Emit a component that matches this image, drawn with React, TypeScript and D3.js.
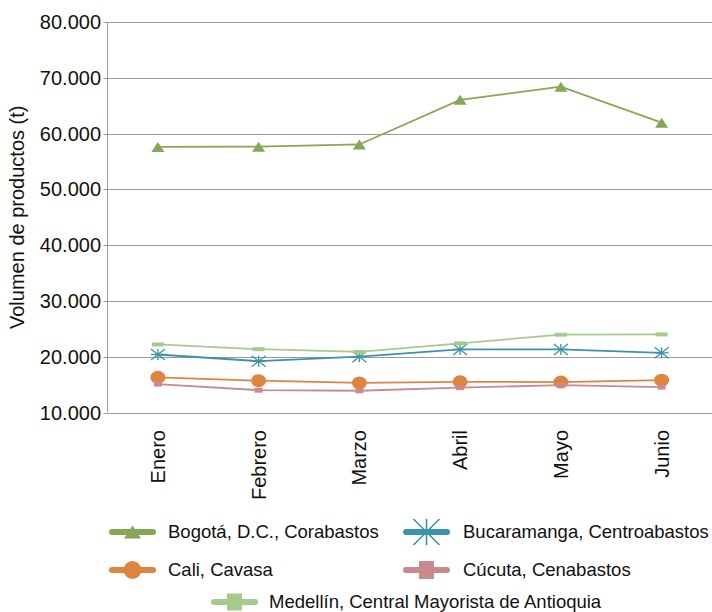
import React from 'react';
import * as d3 from 'd3';

const months = ['Enero', 'Febrero', 'Marzo', 'Abril', 'Mayo', 'Junio'];
const bogota = [57600, 57650, 58050, 66050, 68400, 61950];
const bucaramanga = [20400, 19200, 20000, 21300, 21300, 20700];
const cali = [16300, 15700, 15300, 15500, 15450, 15800];
const cucuta = [15100, 14000, 13900, 14450, 14900, 14550];
const medellin = [22200, 21350, 20850, 22400, 23950, 24000];
const yTicks = [10000, 20000, 30000, 40000, 50000, 60000, 70000, 80000];

const series = [
  { name: 'Bogotá, D.C., Corabastos', values: bogota, color: '#86a856', marker: 'triangle' },
  { name: 'Bucaramanga, Centroabastos', values: bucaramanga, color: '#3b93aa', marker: 'star' },
  { name: 'Cali, Cavasa', values: cali, color: '#dd853f', marker: 'circle' },
  { name: 'Cúcuta, Cenabastos', values: cucuta, color: '#c98a8e', marker: 'square' },
  { name: 'Medellín, Central Mayorista de Antioquia', values: medellin, color: '#a8c98e', marker: 'rect' },
];

const font = 'Liberation Sans, Arial, sans-serif';
const fmt = d3.formatLocale({ decimal: ',', thousands: '.', grouping: [3], currency: ['$', ''] }).format(',.0f');

// marker drawn at (x, y); big = legend size
function Marker({ type, x, y, color, big }: { type: string; x: number; y: number; color: string; big?: boolean }) {
  if (type === 'triangle') {
    const w = big ? 17 : 13, h = big ? 13 : 10;
    return <path d={`M${x - w / 2},${y + h / 2}L${x + w / 2},${y + h / 2}L${x},${y - h / 2}Z`} fill={color} />;
  }
  if (type === 'circle') {
    return <ellipse cx={x} cy={y} rx={big ? 9 : 7.5} ry={big ? 9 : 6.5} fill={color} />;
  }
  if (type === 'square') {
    const w = big ? 15 : 8, h = big ? 18 : 5;
    return <rect x={x - w / 2} y={y - h / 2} width={w} height={h} fill={color} />;
  }
  if (type === 'rect') {
    const w = big ? 15 : 12, h = big ? 17 : 4;
    return <rect x={x - w / 2} y={y - h / 2} width={w} height={h} fill={color} />;
  }
  // asterisk
  const rx = big ? 13 : 7, ry = big ? 13 : 5.5;
  return (
    <g stroke={color} strokeWidth={big ? 1.6 : 1.3}>
      <line x1={x - rx} y1={y - ry} x2={x + rx} y2={y + ry} />
      <line x1={x - rx} y1={y + ry} x2={x + rx} y2={y - ry} />
      <line x1={x} y1={y - ry} x2={x} y2={y + ry} />
      <line x1={x - rx} y1={y} x2={x + rx} y2={y} />
    </g>
  );
}

export default function App() {
  const W = 712, H = 612;
  const left = 107.5, right = 712, top = 22, bottom = 412.5;

  const x = d3.scaleBand().domain(months).range([left, right]).padding(0);
  const y = d3.scaleLinear().domain([10000, 80000]).range([bottom, top]);
  const cx = (m: string) => (x(m) as number) + x.bandwidth() / 2;

  const line = d3.line<number>()
    .x((_, i) => cx(months[i]))
    .y((d) => y(d));

  const legendPos = [
    { lx: 109, tx: 168, y: 532 },
    { lx: 403, tx: 463, y: 532 },
    { lx: 109, tx: 168, y: 570 },
    { lx: 403, tx: 463, y: 570 },
    { lx: 211, tx: 269, y: 602 },
  ];

  return (
    <svg width={W} height={H} style={{ position: 'absolute', left: 0, top: 0, background: '#fff' }} fontFamily={font}>
      {/* grid */}
      {yTicks.map((t) => (
        <g key={t}>
          <line x1={left} x2={right} y1={Math.round(y(t)) + 0.5} y2={Math.round(y(t)) + 0.5} stroke="#9a9a9a" strokeWidth={1} />
          <line x1={left - 4} x2={left} y1={Math.round(y(t)) + 0.5} y2={Math.round(y(t)) + 0.5} stroke="#9a9a9a" strokeWidth={1} />
          <text x={101} y={y(t)} dy="0.35em" textAnchor="end" fontSize={20} fill="#111">{fmt(t)}</text>
        </g>
      ))}
      <line x1={left} x2={left} y1={top} y2={bottom} stroke="#9a9a9a" strokeWidth={1} />

      {/* x labels */}
      {months.map((m) => (
        <text key={m} transform={`translate(${cx(m)},${430}) rotate(-90)`} dy="0.35em" textAnchor="end" fontSize={20} fill="#111">{m}</text>
      ))}

      <text transform={`translate(17,${(top + bottom) / 2}) rotate(-90)`} textAnchor="middle" dy="0.35em" fontSize={20} fill="#111">Volumen de productos (t)</text>

      {/* series */}
      {series.map((s) => (
        <g key={s.name}>
          <path d={line(s.values) || ''} fill="none" stroke={s.color} strokeWidth={1.8} />
          {s.values.map((v, i) => (
            <Marker key={i} type={s.marker} x={cx(months[i])} y={y(v)} color={s.color} />
          ))}
        </g>
      ))}

      {/* legend */}
      {series.map((s, i) => {
        const p = legendPos[i];
        return (
          <g key={s.name}>
            <line x1={p.lx + 3} x2={p.lx + 44} y1={p.y} y2={p.y} stroke={s.color} strokeWidth={6} strokeLinecap="round" />
            <Marker type={s.marker} x={p.lx + 23.5} y={p.y} color={s.color} big />
            <text x={p.tx} y={p.y} dy="0.35em" fontSize={18.5} fill="#111">{s.name}</text>
          </g>
        );
      })}
    </svg>
  );
}
